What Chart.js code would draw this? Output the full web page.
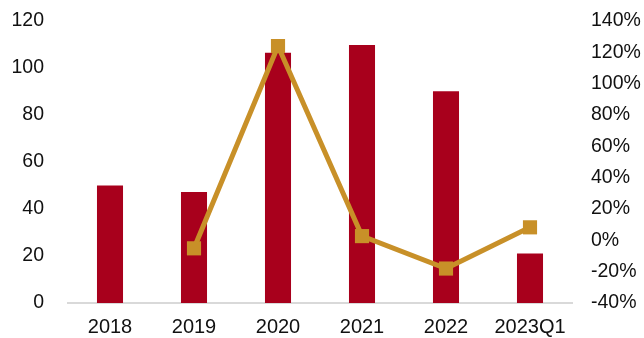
<!DOCTYPE html>
<html>
<head>
<meta charset="utf-8">
<script src="https://cdn.jsdelivr.net/npm/chart.js@4"></script>
<style>
  html, body { margin: 0; padding: 0; background: #fff; }
  #wrap { width: 644px; height: 338px; }
</style>
</head>
<body>
<div id="wrap"><canvas id="chart"></canvas></div>
<script>
// categories and values
var years = ["2018", "2019", "2020", "2021", "2022", "2023Q1"];
var amount = [50, 47.2, 106.5, 109.8, 90.1, 21.1];
var growth = [null, -5.1, 124, 2.7, -18, 8.3];
var leftTicks = [0, 20, 40, 60, 80, 100, 120];

var barColor = "#A8001C";
var lineColor = "#C89028";
var family = "'Liberation Sans', Arial, sans-serif";

// fixed side widths; tick padding otherwise also pushes the plot top down
function fixSide(width) {
  return function(scale) {
    scale.width = width;
    scale.paddingTop = 21;
    scale.paddingBottom = 0;
  };
}

var ctx = document.getElementById("chart").getContext("2d");
var chart = new Chart(ctx, {
  data: {
    labels: years,
    datasets: [{
      type: "line",
      data: growth,
      yAxisID: "y2",
      borderColor: lineColor,
      backgroundColor: lineColor,
      borderWidth: 5,
      pointStyle: "rect",
      pointRadius: 10,
      pointBorderWidth: 0,
      spanGaps: true,
      order: 0
    }, {
      type: "bar",
      data: amount,
      yAxisID: "y",
      backgroundColor: barColor,
      barPercentage: 0.31,
      categoryPercentage: 1,
      order: 1
    }]
  },
  options: {
    responsive: true,
    maintainAspectRatio: false,
    animation: false,
    layout: { autoPadding: false, padding: 0 },
    plugins: { legend: { display: false }, tooltip: { enabled: false } },
    scales: {
      x: {
        grid: { display: false, drawTicks: false },
        border: { display: true, color: "#d9d9d9", width: 2 },
        ticks: { color: "#111", font: { family: family, size: 20 }, padding: 12, maxRotation: 0 },
        afterFit: function(scale) { scale.height = 35; }
      },
      y: {
        position: "left",
        min: 0,
        max: 120,
        afterBuildTicks: function(scale) {
          scale.ticks = leftTicks.map(function(v) { return { value: v }; });
        },
        grid: { display: false, drawTicks: false },
        border: { display: false },
        ticks: { color: "#111", font: { family: family, size: 19.5 }, padding: 24 },
        afterFit: fixSide(68)
      },
      y2: {
        position: "right",
        min: -40,
        max: 140,
        grid: { display: false, drawTicks: false },
        border: { display: false },
        ticks: {
          color: "#111",
          font: { family: family, size: 19.5 },
          stepSize: 20,
          padding: 19,
          callback: function(v) { return v + "%"; }
        },
        afterFit: fixSide(72)
      }
    }
  }
});
</script>
</body>
</html>
